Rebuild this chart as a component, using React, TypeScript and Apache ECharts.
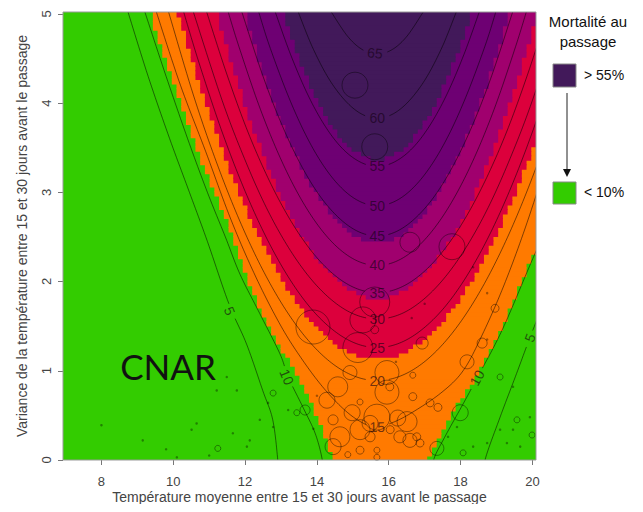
import React, { useEffect, useRef } from "react";
import * as echarts from "echarts";

// ---------- axes ----------
const xTicks = [8, 10, 12, 14, 16, 18, 20];
const yTicks = [0, 1, 2, 3, 4, 5];
const xTitle = "Température moyenne entre 15 et 30 jours avant le passage";
const yTitle = "Variance de la température entre 15 et 30 jours avant le passage";
const X_MIN = 6.93, X_MAX = 20.1, Y_MIN = 0, Y_MAX = 5.02;

// ---------- filled mortality bands (edges, [T, V]) ----------
const orangeEdge = [[9.35,5.02],[10.0,4.25],[10.69,3.46],[11.6,2.57],[12.32,1.79],[12.95,1.3],[13.45,0.97],[13.95,0.55],[14.25,0.25],[14.44,0],[14.46,-0.4],[17.1,-0.4],[17.1,0],[17.4,0.25],[17.8,0.56],[18.3,0.85],[19.1,1.45],[19.9,2.2],[20.6,2.9],[21.3,3.6]];
const redEdge = [[10.12,5.02],[10.64,4.34],[11.27,3.59],[11.9,2.94],[12.53,2.39],[13.16,1.94],[13.79,1.59],[14.42,1.34],[15.05,1.19],[15.68,1.14],[16.31,1.19],[16.94,1.34],[17.57,1.59],[18.2,1.94],[18.83,2.39],[19.46,2.94],[20.09,3.59],[20.72,4.34],[21.24,5.02]];
const magentaEdge = [[11.2,5.02],[11.77,4.27],[12.32,3.62],[12.88,3.07],[13.44,2.62],[14.0,2.27],[14.56,2.02],[15.12,1.87],[15.68,1.82],[16.24,1.87],[16.8,2.02],[17.36,2.27],[17.92,2.62],[18.48,3.07],[19.04,3.62],[19.59,4.27],[20.16,5.02]];
const purpleEdge = [[11.99,5.02],[12.59,4.25],[13.11,3.7],[13.62,3.25],[14.14,2.9],[14.65,2.65],[15.16,2.5],[15.68,2.45],[16.2,2.5],[16.71,2.65],[17.22,2.9],[17.74,3.25],[18.25,3.7],[18.77,4.25],[19.37,5.02]];
const darkEdge = [[13.05,5.02],[13.39,4.63],[13.85,4.18],[14.3,3.83],[14.76,3.58],[15.22,3.43],[15.68,3.38],[16.14,3.43],[16.6,3.58],[17.06,3.83],[17.51,4.18],[17.97,4.63],[18.31,5.02]];

// ---------- contour lines ----------
const c5Left = [[8.74,5.02],[9.3,4.3],[9.9,3.6],[10.45,3.0],[10.95,2.45],[11.55,1.75],[12.04,1.3],[12.49,0.78],[12.77,0.45],[12.91,0],[12.93,-0.2]];
const c5Right = [[18.66,-0.2],[18.68,0],[19.1,0.48],[19.56,0.97],[19.93,1.37],[20.4,1.85]];
const c10Left = [[9.21,5.02],[9.8,4.3],[10.4,3.6],[10.95,3.0],[11.45,2.5],[11.86,2.08],[12.41,1.64],[12.97,1.19],[13.2,0.93],[13.6,0.6],[13.95,0.3],[14.15,0],[14.17,-0.2]];
const c10Right = [[17.24,-0.2],[17.25,0],[17.55,0.25],[18.1,0.65],[18.46,0.92],[19.15,1.45],[19.95,2.2],[20.6,2.8]];
const c15 = [[9.53,5.02],[10.2,4.2],[10.9,3.46],[11.6,2.7],[12.3,2.05],[13.0,1.5],[13.6,1.12],[14.2,0.8],[14.8,0.55],[15.3,0.41],[15.68,0.37],[16.05,0.41],[16.6,0.52],[17.45,0.75],[18.07,1.0],[18.6,1.4],[19.2,1.95],[19.8,2.6],[20.45,3.4]];
const c20 = [[9.87,5.02],[10.56,4.09],[11.2,3.34],[11.84,2.69],[12.48,2.14],[13.12,1.69],[13.76,1.34],[14.4,1.09],[15.04,0.94],[15.68,0.89],[16.32,0.94],[16.96,1.09],[17.6,1.34],[18.24,1.69],[18.88,2.14],[19.52,2.69],[20.16,3.34],[20.8,4.09]];
const c25 = [[10.29,5.02],[10.71,4.46],[11.33,3.71],[11.95,3.06],[12.57,2.51],[13.19,2.06],[13.81,1.71],[14.44,1.46],[15.06,1.31],[15.68,1.26],[16.3,1.31],[16.92,1.46],[17.55,1.71],[18.17,2.06],[18.79,2.51],[19.41,3.06],[20.03,3.71],[20.65,4.46]];
const c30 = [[10.56,5.02],[11.36,4.03],[11.98,3.38],[12.59,2.83],[13.21,2.38],[13.83,2.03],[14.45,1.78],[15.06,1.63],[15.68,1.58],[16.3,1.63],[16.91,1.78],[17.53,2.03],[18.15,2.38],[18.77,2.83],[19.38,3.38],[20.0,4.03],[20.8,5.02]];
const c35 = [[10.93,5.02],[11.49,4.325],[12.08,3.675],[12.68,3.125],[13.28,2.675],[13.88,2.325],[14.48,2.075],[15.08,1.925],[15.68,1.875],[16.28,1.925],[16.88,2.075],[17.48,2.325],[18.08,2.675],[18.68,3.125],[19.28,3.675],[19.87,4.325],[20.43,5.02]];
const c40 = [[11.53,5.02],[11.83,4.63],[12.38,3.98],[12.93,3.43],[13.48,2.98],[14.03,2.63],[14.58,2.38],[15.13,2.23],[15.68,2.18],[16.23,2.23],[16.78,2.38],[17.33,2.63],[17.88,2.98],[18.43,3.43],[18.98,3.98],[19.53,4.63],[19.83,5.02]];
const c45 = [[11.91,5.02],[12.49,4.31],[13.02,3.76],[13.55,3.31],[14.08,2.96],[14.62,2.71],[15.15,2.56],[15.68,2.51],[16.21,2.56],[16.74,2.71],[17.28,2.96],[17.81,3.31],[18.34,3.76],[18.87,4.31],[19.45,5.02]];
const c50 = [[12.38,5.02],[12.67,4.65],[13.18,4.1],[13.68,3.65],[14.18,3.3],[14.68,3.05],[15.18,2.9],[15.68,2.85],[16.18,2.9],[16.68,3.05],[17.18,3.3],[17.68,3.65],[18.18,4.1],[18.69,4.65],[18.98,5.02]];
const c55 = [[12.84,5.02],[13.27,4.54],[13.75,4.09],[14.23,3.74],[14.71,3.49],[15.2,3.34],[15.68,3.29],[16.16,3.34],[16.65,3.49],[17.13,3.74],[17.61,4.09],[18.09,4.54],[18.52,5.02]];
const c60 = [[13.48,5.02],[13.87,4.63],[14.32,4.28],[14.78,4.03],[15.23,3.88],[15.68,3.83],[16.13,3.88],[16.58,4.03],[17.04,4.28],[17.49,4.63],[17.88,5.02]];
const c65 = [[14.4,5.02],[14.85,4.75],[15.26,4.6],[15.68,4.55],[16.1,4.6],[16.51,4.75],[16.96,5.02]];

const contourLabels = ["5", "5", "10", "10", "15", "20", "25", "30", "35", "40", "45", "50", "55", "60", "65"];
const contourLines = [c5Left, c5Right, c10Left, c10Right, c15, c20, c25, c30, c35, c40, c45, c50, c55, c60, c65];
const contourLabelAt = [[11.57,1.67],[19.93,1.37],[13.16,0.93],[18.46,0.92],[15.68,0.37],[15.68,0.89],[15.68,1.26],[15.68,1.58],[15.68,1.875],[15.68,2.18],[15.68,2.51],[15.68,2.85],[15.68,3.29],[15.68,3.83],[15.62,4.56]];

// ---------- observations (bubbles) ----------
const bubbleT = [16.59,17.76,15.61,15.28,15.61,13.89,15.14,16.93,18.96,18.6,18.18,15.95,14.92,14.58,15.95,16.67,19.1,14.28,15.2,17.15,17.37,17.99,15.67,13.67,14.98,16.51,14.45,15.48,15.2,14.64,15.48,16.31,16.59,16.04,14.45,15.2,15.67,17.34,16.87,15.67,18.07,19.99,19.57,15.06,15.61,16.03,16.67,16.25,16.78,14.86,13.44,12.78,11.24];
const bubbleV = [2.44,2.39,1.77,1.57,1.46,1.49,1.26,1.31,1.7,1.31,1.1,0.98,0.98,0.82,0.76,0.95,0.93,0.67,0.65,0.64,0.59,0.53,0.48,0.56,0.53,0.43,0.45,0.41,0.34,0.26,0.26,0.26,0.22,0.34,0.15,0.11,0.11,0.13,0.19,0.03,0.08,0.28,0.45,4.2,3.51,0.82,0.71,0.47,0.26,0.06,0.53,0.75,0.13];
const bubbleN = [10,13,15,13,4,17,15,6,4,5,7,12,7,10,12,3,3,8,3,4,4,8,13,5,8,10,5,8,10,10,5,6,7,4,8,4,3,7,4,3,3,3,3,13,13,4,4,8,4,3,3,3,3];
const dotT = [11.21,11.77,11.49,12.64,13.2,12.05,11.66,10.65,10.51,9.15,8.0,10.1,12.13,12.41,12.78,19.1,19.46,19.29,18.74,18.35,19.66,19.93,17.9,17.65,19.46,18.74,18.35,18.74,16.64,13.9,14.0,16.2,17.0,9.8,11.0];
const dotV = [0.78,0.78,0.93,0.64,0.56,0.15,0.3,0.41,0.34,0.22,0.39,0.03,0.22,0.45,0.37,0.34,0.34,0.19,0.19,0.15,0.15,0.48,0.37,0.26,0.82,1.35,2.16,1.87,1.59,0.35,0.72,1.1,1.75,0.12,0.05];

const GREEN = "#33cc00";
const bandEdges = [orangeEdge, redEdge, magentaEdge, purpleEdge, darkEdge];
const bandColors = ["#ff7a00", "#dc003c", "#a0006e", "#6e0073", "#42195a"];
const GRID_CELLS = 100; // raster resolution of the predicted surface

function spline(pts: number[][], seg: number) {
  if (pts.length < 3) return pts;
  const out: number[][] = [];
  for (let i = 0; i < pts.length - 1; i++) {
    const p0 = pts[i - 1] || pts[i], p1 = pts[i], p2 = pts[i + 1], p3 = pts[i + 2] || pts[i + 1];
    for (let s = 0; s < seg; s++) {
      const t = s / seg, t2 = t * t, t3 = t2 * t;
      const f = (k: number) =>
        0.5 * (2 * p1[k] + (-p0[k] + p2[k]) * t + (2 * p0[k] - 5 * p1[k] + 4 * p2[k] - p3[k]) * t2 + (-p0[k] + 3 * p1[k] - 3 * p2[k] + p3[k]) * t3);
      out.push([f(0), f(1)]);
    }
  }
  out.push(pts[pts.length - 1]);
  return out;
}

export default function App() {
  const ref = useRef<HTMLDivElement>(null);
  useEffect(() => {
    if (!ref.current) return;
    const chart = echarts.init(ref.current, null, { renderer: "svg" });
    const font = "Liberation Sans, Arial, sans-serif";
    const option: any = {
      animation: false,
      textStyle: { fontFamily: font },
      grid: { left: 63, top: 12, width: 473, height: 448, show: true, backgroundColor: GREEN, borderWidth: 0 },
      xAxis: {
        type: "value", min: X_MIN, max: X_MAX,
        axisLine: { show: false },
        splitLine: { show: false },
        axisTick: { show: true, length: 5, customValues: xTicks, lineStyle: { color: "#777" } },
        axisLabel: { customValues: xTicks, color: "#444", fontSize: 13, margin: 15, fontFamily: font },
        name: xTitle, nameLocation: "middle", nameGap: 30, nameMoveOverlap: false,
        nameTextStyle: { color: "#444", fontSize: 14, fontFamily: font },
      },
      yAxis: {
        type: "value", min: Y_MIN, max: Y_MAX,
        axisLine: { show: false },
        splitLine: { show: false },
        axisTick: { show: true, length: 5, customValues: yTicks, lineStyle: { color: "#777" } },
        axisLabel: { customValues: yTicks, rotate: 90, color: "#444", fontSize: 13, margin: 10, fontFamily: font },
        name: yTitle, nameLocation: "middle", nameGap: 34, nameRotate: 90, nameMoveOverlap: false,
        nameTextStyle: { color: "#444", fontSize: 14, fontFamily: font },
      },
      series: [
        {
          type: "custom", clip: true, z: 1,
          data: bandEdges.map((_, i) => [15, 2, i]),
          renderItem: (params: any, api: any) => {
            const idx = params.dataIndex;
            const pts = spline(bandEdges[idx].map((p) => api.coord(p)), 8);
            const tl = api.coord([X_MIN, Y_MAX]);
            const br = api.coord([X_MAX, Y_MIN]);
            const cw = (br[0] - tl[0]) / GRID_CELLS, ch = (br[1] - tl[1]) / GRID_CELLS;
            const children: any[] = [];
            for (let j = 0; j < GRID_CELLS; j++) {
              const yc = tl[1] + (j + 0.5) * ch;
              const xs: number[] = [];
              for (let k = 0; k < pts.length - 1; k++) {
                const a = pts[k], b = pts[k + 1];
                if (a[1] !== b[1] && (a[1] - yc) * (b[1] - yc) <= 0) {
                  xs.push(a[0] + ((yc - a[1]) / (b[1] - a[1])) * (b[0] - a[0]));
                }
              }
              if (!xs.length) continue;
              const xl = Math.min(...xs);
              const xr = xs.length > 1 ? Math.max(...xs) : 1e5;
              const i0 = Math.max(0, Math.ceil((xl - tl[0]) / cw - 0.5));
              const i1 = Math.min(GRID_CELLS - 1, Math.floor((xr - tl[0]) / cw - 0.5));
              if (i1 < i0) continue;
              children.push({
                type: "rect",
                shape: { x: tl[0] + i0 * cw, y: tl[1] + j * ch, width: (i1 - i0 + 1) * cw, height: ch + 0.9 },
                style: { fill: bandColors[idx], stroke: null },
              });
            }
            return { type: "group", children };
          },
        },
        {
          type: "custom", clip: true, z: 2,
          data: contourLines.map((_, i) => [15, 2, i]),
          renderItem: (params: any, api: any) => {
            const i = params.dataIndex;
            const px = contourLines[i].map((p) => api.coord(p));
            const dense = spline(px, 12);
            const lp = api.coord(contourLabelAt[i]);
            const txt = contourLabels[i];
            const r = txt.length > 1 ? 11 : 7;
            const runs: number[][][] = [];
            let cur: number[][] = [];
            let best = 0, bd = Infinity;
            dense.forEach((p, k) => {
              const d = Math.hypot(p[0] - lp[0], p[1] - lp[1]);
              if (d < bd) { bd = d; best = k; }
              if (d < r) { if (cur.length > 1) runs.push(cur); cur = []; }
              else cur.push(p);
            });
            if (cur.length > 1) runs.push(cur);
            const a = dense[Math.max(0, best - 5)], b = dense[Math.min(dense.length - 1, best + 5)];
            let dx = b[0] - a[0], dy = b[1] - a[1];
            if (dx < 0) { dx = -dx; dy = -dy; }
            const rot = -Math.atan2(dy, dx);
            return {
              type: "group",
              children: [
                ...runs.map((run) => ({
                  type: "polyline",
                  shape: { points: run },
                  style: { stroke: "rgba(0,0,0,0.5)", lineWidth: 1, fill: null },
                })),
                {
                  type: "text", x: lp[0], y: lp[1], rotation: rot,
                  style: {
                    text: txt, fill: "rgba(20,0,20,0.62)", fontSize: 14, fontFamily: font,
                    align: "center", verticalAlign: "middle", textAlign: "center", textVerticalAlign: "middle",
                  },
                },
              ],
            };
          },
        },
        {
          type: "scatter", z: 3,
          data: bubbleT.map((t, i) => [t, bubbleV[i], bubbleN[i]]),
          symbolSize: (d: number[]) => d[2] * 2,
          itemStyle: { color: "rgba(0,0,0,0)", borderColor: "rgba(0,0,0,0.5)", borderWidth: 1 },
          emphasis: { disabled: true },
        },
        {
          type: "scatter", z: 3,
          data: dotT.map((t, i) => [t, dotV[i]]),
          symbolSize: 2.5,
          itemStyle: { color: "rgba(0,0,0,0.45)" },
          emphasis: { disabled: true },
        },
      ],
      graphic: [
        { type: "rect", z: 100, shape: { x: 63, y: 12, width: 473, height: 448 }, style: { fill: null, stroke: "#999", lineWidth: 1 } },
        { type: "text", z: 100, x: 168, y: 366, style: { text: "CNAR", fill: "#111", fontSize: 35, fontFamily: "Lato, sans-serif", align: "center", verticalAlign: "middle" } },
        { type: "text", z: 100, x: 588, y: 21, style: { text: "Mortalité au", fill: "#111", fontSize: 15, fontFamily: font, align: "center", verticalAlign: "middle" } },
        { type: "text", z: 100, x: 588, y: 41, style: { text: "passage", fill: "#111", fontSize: 15, fontFamily: font, align: "center", verticalAlign: "middle" } },
        { type: "rect", z: 100, shape: { x: 553, y: 64, width: 23, height: 23 }, style: { fill: "#42195a", stroke: "#888", lineWidth: 1 } },
        { type: "text", z: 100, x: 584, y: 75, style: { text: "> 55%", fill: "#111", fontSize: 14, fontFamily: font, align: "left", verticalAlign: "middle" } },
        { type: "line", z: 100, shape: { x1: 567, y1: 93, x2: 567, y2: 170 }, style: { stroke: "#222", lineWidth: 1 } },
        { type: "polygon", z: 100, shape: { points: [[563, 169], [571, 169], [567, 177]] }, style: { fill: "#111" } },
        { type: "rect", z: 100, shape: { x: 553, y: 182, width: 23, height: 22 }, style: { fill: GREEN, stroke: "#888", lineWidth: 1 } },
        { type: "text", z: 100, x: 584, y: 192, style: { text: "< 10%", fill: "#111", fontSize: 14, fontFamily: font, align: "left", verticalAlign: "middle" } },
      ],
    };
    chart.setOption(option);
    return () => chart.dispose();
  }, []);
  return <div ref={ref} style={{ width: 643, height: 512, margin: -8 }} />;
}
